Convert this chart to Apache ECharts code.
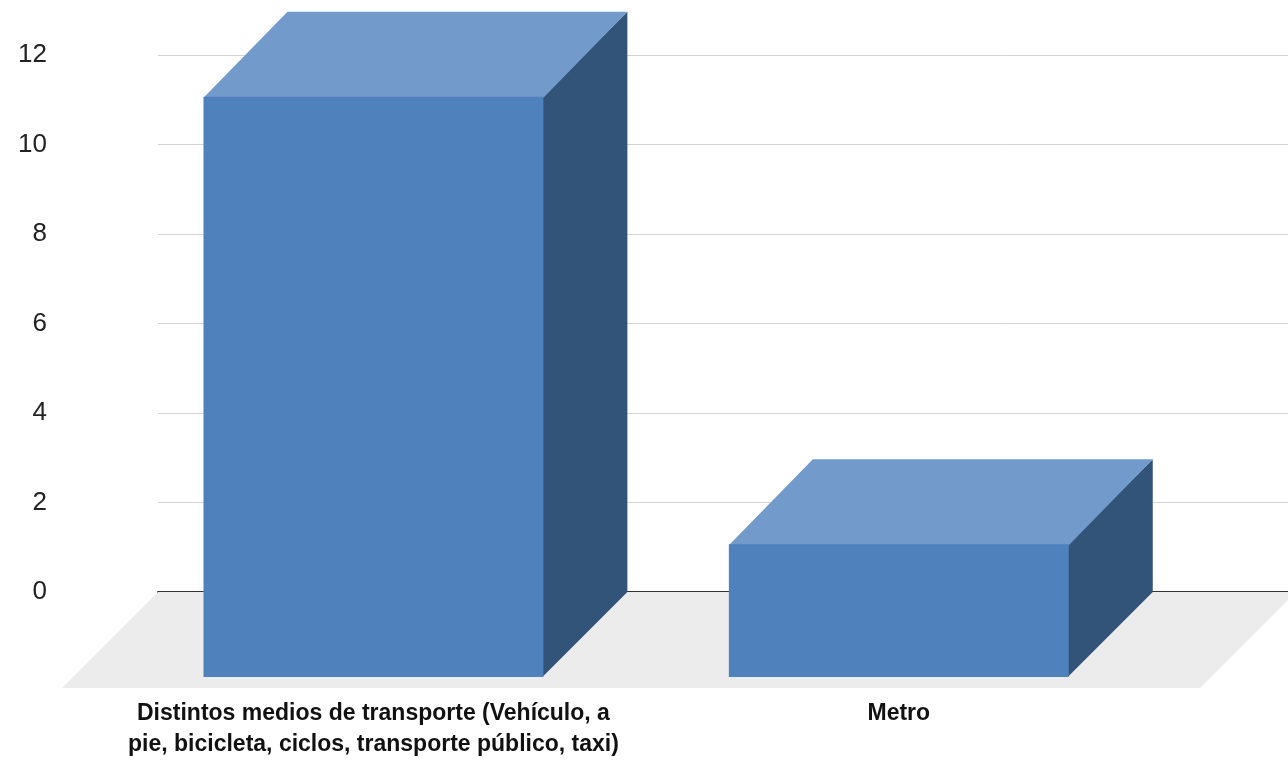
<!DOCTYPE html>
<html>
<head>
<meta charset="utf-8">
<script src="https://cdn.jsdelivr.net/npm/echarts@6/dist/echarts.min.js"></script>
<style>
  html, body { margin: 0; padding: 0; background: #fff; }
  #chart { width: 1288px; height: 762px; }
</style>
</head>
<body>
<div id="chart"></div>
<script>
// data
const categories = [
  'Distintos medios de transporte (Vehículo, a\npie, bicicleta, ciclos, transporte público, taxi)',
  'Metro'
]
const values = [11, 1]
const yMin = -2
const yMax = 12
const yStep = 2

// 3d look
const depthX = 84
const depthY = 85
const floorX = 96
const floorY = 96
const barRatio = 0.647
const colors = { front: '#4f81bd', top: '#729acb', side: '#325479', floor: '#ececec' }

const chart = echarts.init(document.getElementById('chart'))

function renderBar(params, api) {
  const idx = api.value(0)
  const top = api.coord([idx, api.value(1)])
  const base = api.coord([idx, 0])
  const half = api.size([1, 0])[0] * barRatio / 2
  const x0 = top[0] - half
  const x1 = top[0] + half
  const yT = top[1] - 3
  const yB = base[1] + depthY
  return {
    type: 'group',
    children: [
      {
        type: 'polygon',
        shape: { points: [[x1 - 1, yT], [x1 + depthX, yT - depthY], [x1 + depthX, yB - depthY], [x1 - 1, yB]] },
        style: { fill: colors.side }
      },
      {
        type: 'polygon',
        shape: { points: [[x0, yT + 1], [x1, yT + 1], [x1 + depthX, yT - depthY], [x0 + depthX, yT - depthY]] },
        style: { fill: colors.top }
      },
      {
        type: 'rect',
        shape: { x: x0, y: yT, width: x1 - x0, height: yB - yT },
        style: { fill: colors.front }
      }
    ]
  }
}

function renderFloor(params, api) {
  const l = api.coord([0, 0])
  const r = api.coord([1, 0])
  return {
    type: 'polygon',
    shape: {
      points: [[l[0], l[1]], [r[0] + 8, r[1]], [r[0] + 8 - floorX, r[1] + floorY], [l[0] - floorX, l[1] + floorY]]
    },
    style: { fill: colors.floor }
  }
}

chart.setOption({
  animation: false,
  grid: [
    { left: 158, right: 0, top: 55, bottom: 80.5 },
    { left: 110.75, right: 126.5, top: 55, bottom: 80.5 }
  ],
  xAxis: [
    {
      gridIndex: 0,
      type: 'value',
      min: 0,
      max: 1,
      axisLine: { show: true, onZero: true, lineStyle: { color: '#333', width: 2 } },
      axisTick: { show: false },
      axisLabel: { show: false },
      splitLine: { show: false }
    },
    {
      gridIndex: 1,
      type: 'category',
      data: categories,
      axisLine: { show: false, onZero: false },
      axisTick: { show: false },
      axisLabel: {
        interval: 0,
        margin: 17,
        color: '#111',
        fontWeight: 'bold',
        fontSize: 23,
        lineHeight: 31,
        fontFamily: "'Liberation Sans Narrow', 'Liberation Sans', sans-serif"
      }
    }
  ],
  yAxis: [
    {
      gridIndex: 0,
      type: 'value',
      min: yMin,
      max: yMax,
      interval: yStep,
      axisLine: { show: false },
      axisTick: { show: false },
      axisLabel: {
        showMinLabel: false,
        margin: 111,
        padding: [5, 0, 0, 0],
        color: '#222',
        fontSize: 26,
        fontFamily: "'Liberation Sans', Arial, sans-serif"
      },
      splitLine: { showMinLine: false, lineStyle: { color: '#d3d3d3', width: 1 } }
    },
    {
      gridIndex: 1,
      type: 'value',
      min: yMin,
      max: yMax,
      interval: yStep,
      show: false
    }
  ],
  series: [
    {
      type: 'custom',
      xAxisIndex: 0,
      yAxisIndex: 0,
      z: 1,
      clip: false,
      renderItem: renderFloor,
      data: [[0, 0]]
    },
    {
      type: 'custom',
      xAxisIndex: 1,
      yAxisIndex: 1,
      z: 3,
      clip: false,
      renderItem: renderBar,
      encode: { x: 0, y: 1 },
      data: values.map((v, i) => [i, v])
    }
  ]
})
</script>
</body>
</html>
